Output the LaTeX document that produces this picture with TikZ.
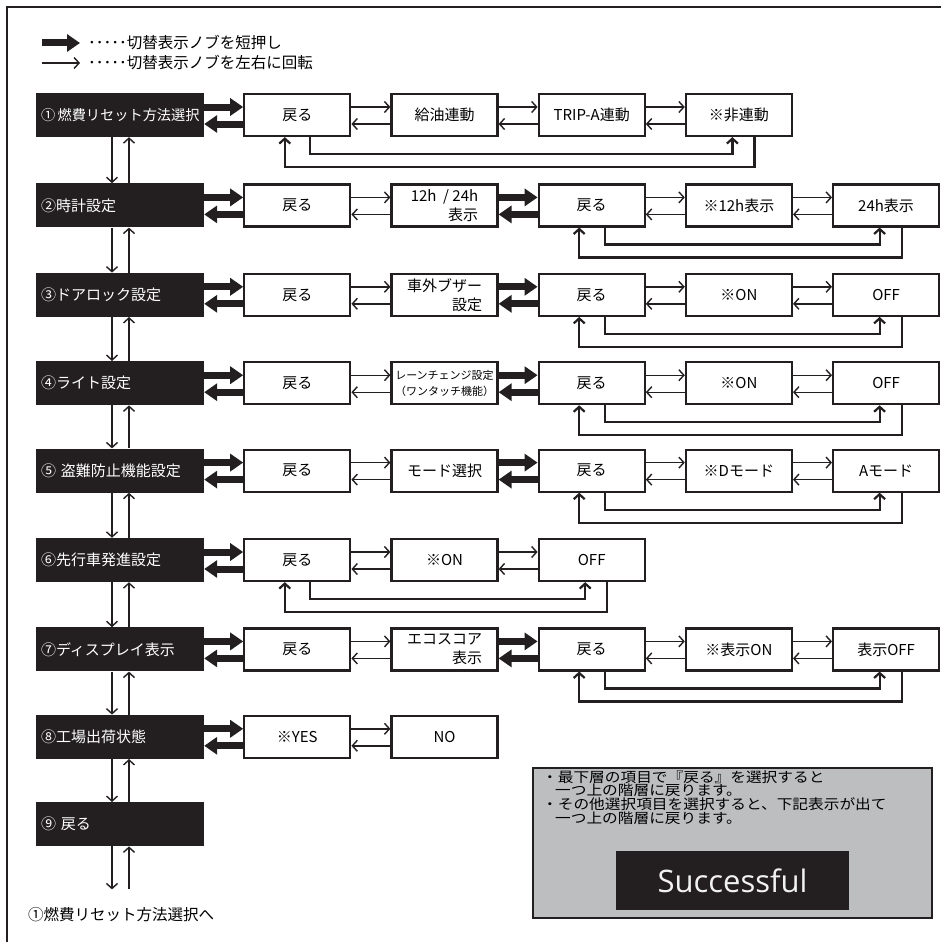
\documentclass[tikz,border=0pt]{standalone}
\usepackage{fontspec}
\setmainfont{Noto Sans CJK JP}
\newfontfamily\memofont[FakeStretch=1.12]{Noto Sans CJK JP}
\newfontfamily\donefont{Open Sans}
\usetikzlibrary{arrows.meta,positioning}

\definecolor{ink}{HTML}{231F20}
\definecolor{panel}{HTML}{BCBEC0}

\begin{document}
\begin{tikzpicture}[
  x=1pt, y=-1pt,
  menu/.style={fill=ink, text=white, minimum width=168pt, minimum height=44pt, text width=158pt, inner xsep=5pt, align=left, font=\fontsize{15}{19}\selectfont},
  item/.style={draw=ink, line width=2.2pt, fill=white, minimum width=106pt, minimum height=42pt, align=center, inner sep=2pt, font=\fontsize{15}{19}\selectfont},
  push/.style={-{Triangle[length=13pt,width=17pt]}, line width=7pt, draw=ink},
  turn/.style={-{Straight Barb[length=5pt,width=11pt]}, line width=1.4pt, draw=ink},
  back/.style={-{Straight Barb[length=5pt,width=11pt]}, line width=2.2pt, draw=ink},
  legend/.style={anchor=west, inner xsep=8pt, font=\fontsize{15.5}{18}\selectfont}
]

\useasboundingbox (0,0) rectangle (941,942);
\draw[line width=2pt, ink] (7,942) -- (7,7) -- (941,7);

\coordinate (k1) at (42,43);
\coordinate (k2) at (42,63);
\node[legend] (k1t) at (80,43) {･････切替表示ノブを短押し};
\node[legend] (k2t) at (80,63) {･････切替表示ノブを左右に回転};
\draw[push] (k1) -- (k1t.west);
\draw[turn] (k2) -- (k2t.west);

\node[menu] (m1) at (120,115) {\mbox{\fontsize{14.2}{19}\selectfont ①\,燃費リセット方法選択}};
\node[menu, below=46pt of m1] (m2) {②時計設定};
\node[menu, below=45pt of m2] (m3) {③ドアロック設定};
\node[menu, below=44pt of m3] (m4) {④ライト設定};
\node[menu, below=43pt of m4] (m5) {\mbox{⑤ 盗難防止機能設定}};
\node[menu, below=45pt of m5] (m6) {⑥先行車発進設定};
\node[menu, below=45pt of m6] (m7) {⑦ディスプレイ表示};
\node[menu, below=43pt of m7] (m8) {⑧工場出荷状態};
\node[menu, below=43pt of m8] (m9) {⑨ 戻る};

\node[item, right=39pt of m1] (a1) {戻る};
\node[item, right=39pt of a1] (b1) {給油連動};
\node[item, right=39pt of b1] (c1) {TRIP-A連動};
\node[item, right=39pt of c1] (d1) {※非連動};

\node[item, right=39pt of m2] (a2) {戻る};
\node[item, right=39pt of a2, align=right] (b2) {12h\ \ /\ 24h\\表示};
\node[item, right=39pt of b2] (c2) {戻る};
\node[item, right=39pt of c2] (d2) {※12h表示};
\node[item, right=39pt of d2] (e2) {24h表示};

\node[item, right=39pt of m3] (a3) {戻る};
\node[item, right=39pt of a3, align=right] (b3) {車外ブザー\\設定};
\node[item, right=39pt of b3] (c3) {戻る};
\node[item, right=39pt of c3] (d3) {※ON};
\node[item, right=39pt of d3] (e3) {OFF};

\node[item, right=39pt of m4] (a4) {戻る};
\node[item, right=39pt of a4, font=\fontsize{11}{16}\selectfont] (b4) {レーンチェンジ設定\\（ワンタッチ機能）};
\node[item, right=39pt of b4] (c4) {戻る};
\node[item, right=39pt of c4] (d4) {※ON};
\node[item, right=39pt of d4] (e4) {OFF};

\node[item, right=39pt of m5] (a5) {戻る};
\node[item, right=39pt of a5] (b5) {モード選択};
\node[item, right=39pt of b5] (c5) {戻る};
\node[item, right=39pt of c5] (d5) {※Dモード};
\node[item, right=39pt of d5] (e5) {Aモード};

\node[item, right=39pt of m6] (a6) {戻る};
\node[item, right=39pt of a6] (b6) {※ON};
\node[item, right=39pt of b6] (c6) {OFF};

\node[item, right=39pt of m7] (a7) {戻る};
\node[item, right=39pt of a7, align=right] (b7) {エコスコア\\表示};
\node[item, right=39pt of b7] (c7) {戻る};
\node[item, right=39pt of c7] (d7) {※表示ON};
\node[item, right=39pt of d7] (e7) {表示OFF};

\node[item, right=39pt of m8] (a8) {※YES};
\node[item, right=39pt of a8] (b8) {NO};

\draw[push] ([yshift=8pt]m1.east) -- ([yshift=8pt]a1.west);
\draw[push] ([yshift=-9pt]a1.west) -- ([yshift=-9pt]m1.east);
\draw[push] ([yshift=8pt]m2.east) -- ([yshift=8pt]a2.west);
\draw[push] ([yshift=-9pt]a2.west) -- ([yshift=-9pt]m2.east);
\draw[push] ([yshift=8pt]m3.east) -- ([yshift=8pt]a3.west);
\draw[push] ([yshift=-9pt]a3.west) -- ([yshift=-9pt]m3.east);
\draw[push] ([yshift=8pt]m4.east) -- ([yshift=8pt]a4.west);
\draw[push] ([yshift=-9pt]a4.west) -- ([yshift=-9pt]m4.east);
\draw[push] ([yshift=8pt]m5.east) -- ([yshift=8pt]a5.west);
\draw[push] ([yshift=-9pt]a5.west) -- ([yshift=-9pt]m5.east);
\draw[push] ([yshift=8pt]m6.east) -- ([yshift=8pt]a6.west);
\draw[push] ([yshift=-9pt]a6.west) -- ([yshift=-9pt]m6.east);
\draw[push] ([yshift=8pt]m7.east) -- ([yshift=8pt]a7.west);
\draw[push] ([yshift=-9pt]a7.west) -- ([yshift=-9pt]m7.east);
\draw[push] ([yshift=8pt]m8.east) -- ([yshift=8pt]a8.west);
\draw[push] ([yshift=-9pt]a8.west) -- ([yshift=-9pt]m8.east);

\draw[push] ([yshift=8pt]b2.east) -- ([yshift=8pt]c2.west);
\draw[push] ([yshift=-9pt]c2.west) -- ([yshift=-9pt]b2.east);
\draw[push] ([yshift=8pt]b3.east) -- ([yshift=8pt]c3.west);
\draw[push] ([yshift=-9pt]c3.west) -- ([yshift=-9pt]b3.east);
\draw[push] ([yshift=8pt]b4.east) -- ([yshift=8pt]c4.west);
\draw[push] ([yshift=-9pt]c4.west) -- ([yshift=-9pt]b4.east);
\draw[push] ([yshift=8pt]b5.east) -- ([yshift=8pt]c5.west);
\draw[push] ([yshift=-9pt]c5.west) -- ([yshift=-9pt]b5.east);
\draw[push] ([yshift=8pt]b7.east) -- ([yshift=8pt]c7.west);
\draw[push] ([yshift=-9pt]c7.west) -- ([yshift=-9pt]b7.east);

\draw[turn] ([yshift=8pt]a1.east) -- ([yshift=8pt]b1.west);
\draw[turn] ([yshift=-9pt]b1.west) -- ([yshift=-9pt]a1.east);
\draw[turn] ([yshift=8pt]b1.east) -- ([yshift=8pt]c1.west);
\draw[turn] ([yshift=-9pt]c1.west) -- ([yshift=-9pt]b1.east);
\draw[turn] ([yshift=8pt]c1.east) -- ([yshift=8pt]d1.west);
\draw[turn] ([yshift=-9pt]d1.west) -- ([yshift=-9pt]c1.east);

\draw[turn] ([yshift=8pt]a2.east) -- ([yshift=8pt]b2.west);
\draw[turn] ([yshift=-9pt]b2.west) -- ([yshift=-9pt]a2.east);
\draw[turn] ([yshift=8pt]c2.east) -- ([yshift=8pt]d2.west);
\draw[turn] ([yshift=-9pt]d2.west) -- ([yshift=-9pt]c2.east);
\draw[turn] ([yshift=8pt]d2.east) -- ([yshift=8pt]e2.west);
\draw[turn] ([yshift=-9pt]e2.west) -- ([yshift=-9pt]d2.east);

\draw[turn] ([yshift=8pt]a3.east) -- ([yshift=8pt]b3.west);
\draw[turn] ([yshift=-9pt]b3.west) -- ([yshift=-9pt]a3.east);
\draw[turn] ([yshift=8pt]c3.east) -- ([yshift=8pt]d3.west);
\draw[turn] ([yshift=-9pt]d3.west) -- ([yshift=-9pt]c3.east);
\draw[turn] ([yshift=8pt]d3.east) -- ([yshift=8pt]e3.west);
\draw[turn] ([yshift=-9pt]e3.west) -- ([yshift=-9pt]d3.east);

\draw[turn] ([yshift=8pt]a4.east) -- ([yshift=8pt]b4.west);
\draw[turn] ([yshift=-9pt]b4.west) -- ([yshift=-9pt]a4.east);
\draw[turn] ([yshift=8pt]c4.east) -- ([yshift=8pt]d4.west);
\draw[turn] ([yshift=-9pt]d4.west) -- ([yshift=-9pt]c4.east);
\draw[turn] ([yshift=8pt]d4.east) -- ([yshift=8pt]e4.west);
\draw[turn] ([yshift=-9pt]e4.west) -- ([yshift=-9pt]d4.east);

\draw[turn] ([yshift=8pt]a5.east) -- ([yshift=8pt]b5.west);
\draw[turn] ([yshift=-9pt]b5.west) -- ([yshift=-9pt]a5.east);
\draw[turn] ([yshift=8pt]c5.east) -- ([yshift=8pt]d5.west);
\draw[turn] ([yshift=-9pt]d5.west) -- ([yshift=-9pt]c5.east);
\draw[turn] ([yshift=8pt]d5.east) -- ([yshift=8pt]e5.west);
\draw[turn] ([yshift=-9pt]e5.west) -- ([yshift=-9pt]d5.east);

\draw[turn] ([yshift=8pt]a6.east) -- ([yshift=8pt]b6.west);
\draw[turn] ([yshift=-9pt]b6.west) -- ([yshift=-9pt]a6.east);
\draw[turn] ([yshift=8pt]b6.east) -- ([yshift=8pt]c6.west);
\draw[turn] ([yshift=-9pt]c6.west) -- ([yshift=-9pt]b6.east);

\draw[turn] ([yshift=8pt]a7.east) -- ([yshift=8pt]b7.west);
\draw[turn] ([yshift=-9pt]b7.west) -- ([yshift=-9pt]a7.east);
\draw[turn] ([yshift=8pt]c7.east) -- ([yshift=8pt]d7.west);
\draw[turn] ([yshift=-9pt]d7.west) -- ([yshift=-9pt]c7.east);
\draw[turn] ([yshift=8pt]d7.east) -- ([yshift=8pt]e7.west);
\draw[turn] ([yshift=-9pt]e7.west) -- ([yshift=-9pt]d7.east);

\draw[turn] ([yshift=8pt]a8.east) -- ([yshift=8pt]b8.west);
\draw[turn] ([yshift=-9pt]b8.west) -- ([yshift=-9pt]a8.east);

\draw[back] ([xshift=13pt]a1.south) -- ++(0,17) -| ([xshift=-6.5pt]d1.south);
\draw[back] ([xshift=15.5pt]d1.south) -- ++(0,30) -| ([xshift=-12.5pt]a1.south);
\draw[back] ([xshift=13pt]c2.south) -- ++(0,17) -| ([xshift=-6.5pt]e2.south);
\draw[back] ([xshift=15.5pt]e2.south) -- ++(0,30) -| ([xshift=-12.5pt]c2.south);
\draw[back] ([xshift=13pt]c3.south) -- ++(0,17) -| ([xshift=-6.5pt]e3.south);
\draw[back] ([xshift=15.5pt]e3.south) -- ++(0,30) -| ([xshift=-12.5pt]c3.south);
\draw[back] ([xshift=13pt]c4.south) -- ++(0,17) -| ([xshift=-6.5pt]e4.south);
\draw[back] ([xshift=15.5pt]e4.south) -- ++(0,30) -| ([xshift=-12.5pt]c4.south);
\draw[back] ([xshift=13pt]c5.south) -- ++(0,17) -| ([xshift=-6.5pt]e5.south);
\draw[back] ([xshift=15.5pt]e5.south) -- ++(0,30) -| ([xshift=-12.5pt]c5.south);
\draw[back] ([xshift=13pt]a6.south) -- ++(0,17) -| ([xshift=-6.5pt]c6.south);
\draw[back] ([xshift=15.5pt]c6.south) -- ++(0,30) -| ([xshift=-12.5pt]a6.south);
\draw[back] ([xshift=13pt]c7.south) -- ++(0,17) -| ([xshift=-6.5pt]e7.south);
\draw[back] ([xshift=15.5pt]e7.south) -- ++(0,30) -| ([xshift=-12.5pt]c7.south);

\draw[turn] ([xshift=-8pt]m1.south) -- ([xshift=-8pt]m2.north);
\draw[turn] ([xshift=9pt]m2.north) -- ([xshift=9pt]m1.south);
\draw[turn] ([xshift=-8pt]m2.south) -- ([xshift=-8pt]m3.north);
\draw[turn] ([xshift=9pt]m3.north) -- ([xshift=9pt]m2.south);
\draw[turn] ([xshift=-8pt]m3.south) -- ([xshift=-8pt]m4.north);
\draw[turn] ([xshift=9pt]m4.north) -- ([xshift=9pt]m3.south);
\draw[turn] ([xshift=-8pt]m4.south) -- ([xshift=-8pt]m5.north);
\draw[turn] ([xshift=9pt]m5.north) -- ([xshift=9pt]m4.south);
\draw[turn] ([xshift=-8pt]m5.south) -- ([xshift=-8pt]m6.north);
\draw[turn] ([xshift=9pt]m6.north) -- ([xshift=9pt]m5.south);
\draw[turn] ([xshift=-8pt]m6.south) -- ([xshift=-8pt]m7.north);
\draw[turn] ([xshift=9pt]m7.north) -- ([xshift=9pt]m6.south);
\draw[turn] ([xshift=-8pt]m7.south) -- ([xshift=-8pt]m8.north);
\draw[turn] ([xshift=9pt]m8.north) -- ([xshift=9pt]m7.south);
\draw[turn] ([xshift=-8pt]m8.south) -- ([xshift=-8pt]m9.north);
\draw[turn] ([xshift=9pt]m9.north) -- ([xshift=9pt]m8.south);

\coordinate (e9) at ([yshift=-43pt]m9.south);
\draw[turn] ([xshift=-8pt]m9.south) -- ([xshift=-8pt]e9);
\draw[turn] ([xshift=9pt]e9) -- ([xshift=9pt]m9.south);
\node[font=\fontsize{15.5}{18}\selectfont] (ret) at (121,915) {①燃費リセット方法選択へ};

\node[draw=ink, line width=2pt, fill=panel, minimum width=399pt, minimum height=150pt] (memo) at (732.5,843) {};
\node[anchor=north west, align=left, inner sep=0pt, font=\memofont\fontsize{14}{13.8}\selectfont] (memotxt) at ([xshift=10pt,yshift=-3pt]memo.north west) {・最下層の項目で『戻る』を選択すると\\\hspace*{13pt}一つ上の階層に戻ります。\\・その他選択項目を選択すると、下記表示が出て\\\hspace*{13pt}一つ上の階層に戻ります。};
\node[fill=ink, minimum width=233pt, minimum height=59pt, text=white!90!gray, font=\donefont\fontsize{31}{31}\selectfont, above=9pt of memo.south] (done) {Successful};

\end{tikzpicture}
\end{document}
